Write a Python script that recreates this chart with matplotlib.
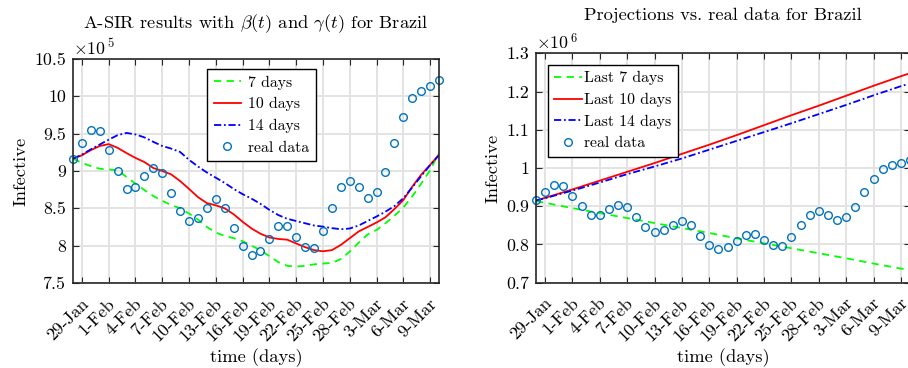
import matplotlib
matplotlib.use("Agg")
import matplotlib.pyplot as plt
import matplotlib.transforms as mtransforms
import numpy as np
from matplotlib.ticker import FixedLocator, FuncFormatter

plt.rcParams["font.family"] = ["cmr10", "DejaVu Serif"]
plt.rcParams["mathtext.fontset"] = "cm"
plt.rcParams["axes.formatter.use_mathtext"] = True

# Days counted from 28-Jan (day 0) to 10-Mar (day 41)
days = np.arange(42)
tick_days = [1, 4, 7, 10, 13, 16, 19, 22, 25, 28, 31, 34, 37, 40]
tick_labels = ["29-Jan", "1-Feb", "4-Feb", "7-Feb", "10-Feb", "13-Feb", "16-Feb",
               "19-Feb", "22-Feb", "25-Feb", "28-Feb", "3-Mar", "6-Mar", "9-Mar"]

# Observed infective (x 1e5)
real_data = [9.165, 9.37, 9.555, 9.54, 9.28, 9.00, 8.76, 8.78, 8.93, 9.04,
             8.97, 8.71, 8.46, 8.33, 8.37, 8.50, 8.62, 8.51, 8.23, 7.99,
             7.88, 7.93, 8.09, 8.26, 8.27, 8.12, 7.98, 7.965, 8.20, 8.50,
             8.78, 8.865, 8.78, 8.64, 8.72, 8.99, 9.38, 9.72, 9.98, 10.07,
             10.14, 10.22]

# A-SIR fits (x 1e5) with time-dependent beta and gamma
fit_7 = [9.165, 9.11, 9.065, 9.03, 9.02, 9.01, 8.92, 8.83, 8.745, 8.665,
         8.60, 8.545, 8.50, 8.43, 8.35, 8.25, 8.175, 8.13, 8.10, 8.06,
         8.00, 7.94, 7.86, 7.78, 7.73, 7.72, 7.73, 7.75, 7.76, 7.77,
         7.82, 7.92, 8.04, 8.15, 8.21, 8.30, 8.40, 8.51, 8.66, 8.83,
         9.01, 9.24]
fit_10 = [9.165, 9.21, 9.28, 9.335, 9.36, 9.31, 9.24, 9.175, 9.12, 9.04,
          9.00, 8.955, 8.865, 8.76, 8.65, 8.57, 8.54, 8.50, 8.42, 8.32,
          8.23, 8.16, 8.11, 8.09, 8.08, 8.03, 7.98, 7.94, 7.925, 7.94,
          8.01, 8.10, 8.19, 8.25, 8.31, 8.38, 8.49, 8.61, 8.79, 8.95,
          9.08, 9.22]
fit_14 = [9.165, 9.22, 9.29, 9.355, 9.42, 9.48, 9.51, 9.49, 9.45, 9.39,
          9.335, 9.30, 9.255, 9.15, 9.06, 8.98, 8.91, 8.84, 8.76, 8.69,
          8.63, 8.56, 8.48, 8.41, 8.36, 8.33, 8.30, 8.27, 8.255, 8.235,
          8.22, 8.23, 8.27, 8.33, 8.39, 8.455, 8.53, 8.635, 8.78, 8.93,
          9.08, 9.21]

# Projections (x 1e6) from the last 7 / 10 / 14 days
proj_days = [0, 1, 4, 7, 10, 13, 16, 19, 22, 25, 28, 31, 34, 37, 40, 41]
proj_7 = [0.913, 0.909, 0.895, 0.882, 0.869, 0.856, 0.843, 0.830, 0.816,
          0.803, 0.790, 0.777, 0.764, 0.750, 0.737, 0.733]
proj_10 = [0.915, 0.922, 0.944, 0.967, 0.990, 1.013, 1.037, 1.061, 1.086,
           1.112, 1.138, 1.163, 1.189, 1.215, 1.240, 1.248]
proj_14 = [0.915, 0.921, 0.941, 0.962, 0.984, 1.004, 1.025, 1.048, 1.071,
           1.094, 1.117, 1.141, 1.165, 1.190, 1.214, 1.221]

GREEN = "#00ff00"
RED = "#ff0000"
BLUE = "#0000ff"
MARK = "#0072bd"
GRID = "#e3e3e3"
EDGE = "#262626"
FS_TICK = 12.8
FS_LABEL = 13.3
FS_LEG = 11.3

W, H = 908, 368
fig = plt.figure(figsize=(W / 100, H / 100), dpi=100)


def frac(left, top, right, bottom):
    return [left / W, (H - bottom) / H, (right - left) / W, (bottom - top) / H]


def style(ax, yticks, ylim):
    ax.set_xlim(0, 41)
    ax.set_ylim(*ylim)
    ax.xaxis.set_major_locator(FixedLocator(tick_days))
    ax.set_xticklabels(tick_labels, rotation=45, ha="right", va="center",
                       rotation_mode="anchor", fontsize=FS_TICK)
    ax.yaxis.set_major_locator(FixedLocator(yticks))
    ax.yaxis.set_major_formatter(FuncFormatter(lambda v, p: f"{v:g}"))
    ax.tick_params(axis="y", labelsize=FS_TICK)
    ax.tick_params(direction="in", length=4, width=0.8, color=EDGE,
                   top=True, right=True, pad=5)
    ax.tick_params(axis="x", pad=13)
    shift = mtransforms.ScaledTranslation(4 / 100, 0, fig.dpi_scale_trans)
    for lab in ax.get_xticklabels():
        lab.set_transform(lab.get_transform() + shift)
    ax.grid(True, color=GRID, linewidth=1.4)
    ax.set_axisbelow(True)
    for s in ax.spines.values():
        s.set_color(EDGE)
        s.set_linewidth(1.2)
    ax.set_xlabel("time (days)", fontsize=FS_LABEL, labelpad=3)
    ax.set_ylabel("Infective", fontsize=FS_LABEL, labelpad=4)


def legend(ax, anchor, textpad):
    leg = ax.legend(loc="upper left", bbox_to_anchor=anchor, fontsize=FS_LEG,
                    frameon=True, fancybox=False, edgecolor="black",
                    framealpha=1, handlelength=1.75, handletextpad=textpad,
                    borderpad=0.4, labelspacing=0.48, borderaxespad=0)
    leg.get_frame().set_linewidth(1.0)


# Left panel: A-SIR fits
ax1 = fig.add_axes(frac(73, 59, 439, 283))
ax1.plot(days, fit_7, "--", color=GREEN, lw=1.3, dashes=(4, 3), label="7 days")
ax1.plot(days, fit_10, "-", color=RED, lw=1.3, label="10 days")
ax1.plot(days, fit_14, "-.", color=BLUE, lw=1.3, dashes=(4, 1.5, 1, 1.5), label="14 days")
ax1.plot(days, real_data, "o", mfc="none", mec=MARK, ms=5.5, mew=1.0,
         label="real data", clip_on=False)
style(ax1, [7.5, 8, 8.5, 9, 9.5, 10, 10.5], (7.5, 10.5))
ax1.set_title(r"A-SIR results with $\beta(t)$ and $\gamma(t)$ for Brazil",
              fontsize=FS_LABEL, pad=22)
ax1.text(0.0, 1.005, r"$\times10^{\,5}$", transform=ax1.transAxes,
         ha="left", va="bottom", fontsize=FS_TICK)
legend(ax1, (0.367, 0.955), 0.45)

# Right panel: projections vs observations
ax2 = fig.add_axes(frac(536, 53.3, 910, 282.7))
real_m = [v / 10 for v in real_data]
ax2.plot(proj_days, proj_7, "--", color=GREEN, lw=1.3, dashes=(4, 3), label="Last 7 days")
ax2.plot(proj_days, proj_10, "-", color=RED, lw=1.3, label="Last 10 days")
ax2.plot(proj_days, proj_14, "-.", color=BLUE, lw=1.3, dashes=(4, 1.5, 1, 1.5), label="Last 14 days")
ax2.plot(days, real_m, "o", mfc="none", mec=MARK, ms=5.5, mew=1.0,
         label="real data", clip_on=False)
style(ax2, [0.7, 0.8, 0.9, 1.0, 1.1, 1.2, 1.3], (0.7, 1.3))
ax2.set_title("Projections vs. real data for Brazil", fontsize=FS_LABEL, pad=24)
ax2.text(0.0, 1.005, r"$\times10^{\,6}$", transform=ax2.transAxes,
         ha="left", va="bottom", fontsize=FS_TICK)
legend(ax2, (0.032, 0.95), 0.15)

fig.savefig("out.png", dpi=100)
